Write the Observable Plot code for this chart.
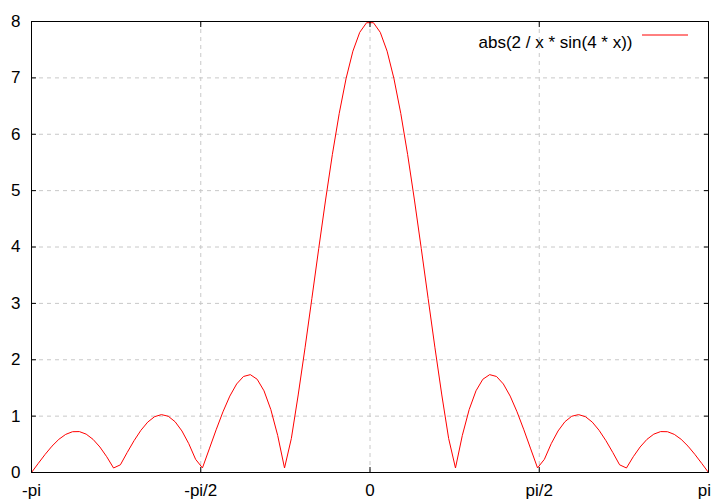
<!DOCTYPE html>
<html>
<head>
<meta charset="utf-8">
<script src="https://cdn.jsdelivr.net/npm/d3@7"></script>
<script src="https://cdn.jsdelivr.net/npm/@observablehq/plot@0.6"></script>
<style>
  html, body { margin: 0; padding: 0; background: #fff; }
  #chart svg { display: block; }
</style>
</head>
<body>
<div id="chart"></div>
<script>
const seriesLabel = "abs(2 / x * sin(4 * x))";

const xs = [
  -3.1416, -3.0781, -3.0147, -2.9512, -2.8877, -2.8243, -2.7608, -2.6973, -2.6339, -2.5704,
  -2.5069, -2.4435, -2.3800, -2.3165, -2.2531, -2.1896, -2.1261, -2.0627, -1.9992, -1.9357,
  -1.8723, -1.8088, -1.7453, -1.6819, -1.6184, -1.5549, -1.4915, -1.4280, -1.3645, -1.3011,
  -1.2376, -1.1741, -1.1107, -1.0472, -0.9837, -0.9203, -0.8568, -0.7933, -0.7299, -0.6664,
  -0.6029, -0.5395, -0.4760, -0.4125, -0.3491, -0.2856, -0.2221, -0.1587, -0.0952, -0.0317,
  0.0317, 0.0952, 0.1587, 0.2221, 0.2856, 0.3491, 0.4125, 0.4760, 0.5395, 0.6029,
  0.6664, 0.7299, 0.7933, 0.8568, 0.9203, 0.9837, 1.0472, 1.1107, 1.1741, 1.2376,
  1.3011, 1.3645, 1.4280, 1.4915, 1.5549, 1.6184, 1.6819, 1.7453, 1.8088, 1.8723,
  1.9357, 1.9992, 2.0627, 2.1261, 2.1896, 2.2531, 2.3165, 2.3800, 2.4435, 2.5069,
  2.5704, 2.6339, 2.6973, 2.7608, 2.8243, 2.8877, 2.9512, 3.0147, 3.0781, 3.1416
];

const ys = [
  0.0000, 0.1632, 0.3226, 0.4677, 0.5885, 0.6762, 0.7236, 0.7258, 0.6804, 0.5880,
  0.4524, 0.2800, 0.0799, 0.1364, 0.3559, 0.5646, 0.7485, 0.8943, 0.9902, 1.0268,
  0.9979, 0.9007, 0.7366, 0.5111, 0.2339, 0.0816, 0.4184, 0.7572, 1.0767, 1.3550,
  1.5705, 1.7032, 1.7356, 1.6540, 1.4490, 1.1164, 0.6576, 0.0800, 0.6037, 1.3752,
  2.2117, 3.0866, 3.9706, 4.8329, 5.6425, 6.3700, 6.9881, 7.4737, 7.8081, 7.9785,
  7.9785, 7.8081, 7.4737, 6.9881, 6.3700, 5.6425, 4.8329, 3.9706, 3.0866, 2.2117,
  1.3752, 0.6037, 0.0800, 0.6576, 1.1164, 1.4490, 1.6540, 1.7356, 1.7032, 1.5705,
  1.3550, 1.0767, 0.7572, 0.4184, 0.0816, 0.2339, 0.5111, 0.7366, 0.9007, 0.9979,
  1.0268, 0.9902, 0.8943, 0.7485, 0.5646, 0.3559, 0.1364, 0.0799, 0.2800, 0.4524,
  0.5880, 0.6804, 0.7258, 0.7236, 0.6762, 0.5885, 0.4677, 0.3226, 0.1632, 0.0000
];

const xTicks = [-3.14159265, -1.57079633, 0, 1.57079633, 3.14159265];
const xTickLabels = ["-pi", "-pi/2", "0", "pi/2", "pi"];
const yTicks = [0, 1, 2, 3, 4, 5, 6, 7, 8];
const yTickLabels = ["0", "1", "2", "3", "4", "5", "6", "7", "8"];
const xDomain = [-3.14159265, 3.14159265];
const yDomain = [0, 8];

const data = xs.map((x, i) => ({x, y: ys[i]}));

const font = "'Liberation Sans', Arial, Helvetica, sans-serif";
const gridStyle = {stroke: "#c8c8c8", strokeOpacity: 1, strokeDasharray: "4,4"};

const chart = Plot.plot({
  width: 712,
  height: 499,
  marginLeft: 31,
  marginRight: 4,
  marginTop: 21,
  marginBottom: 27,
  style: {fontFamily: font, fontSize: "17px", color: "#000", background: "#fff"},
  x: {domain: xDomain, label: null},
  y: {domain: yDomain, label: null},
  marks: [
    Plot.gridX(xTicks.slice(1, -1), gridStyle),
    Plot.gridY(yTicks.slice(1, -1), gridStyle),
    Plot.line(data, {x: "x", y: "y", stroke: "#ff0000", strokeWidth: 1}),
    // tick marks (inward, mirrored on all four sides)
    Plot.axisX(xTicks, {anchor: "bottom", tickSize: -5, tickFormat: () => "", label: null, stroke: "#000"}),
    Plot.axisX(xTicks, {anchor: "top", tickSize: -5, tickFormat: () => "", label: null, stroke: "#000"}),
    Plot.axisY(yTicks, {anchor: "left", tickSize: -5, tickFormat: () => "", label: null, stroke: "#000"}),
    Plot.axisY(yTicks, {anchor: "right", tickSize: -5, tickFormat: () => "", label: null, stroke: "#000"}),
    // tick labels
    Plot.axisX(xTicks, {anchor: "bottom", tickSize: 0, tickPadding: 11, tickFormat: (d, i) => xTickLabels[i], label: null, fill: "#000", fontSize: 17}),
    Plot.axisY(yTicks, {anchor: "left", tickSize: 0, tickPadding: 11, tickFormat: (d, i) => yTickLabels[i], label: null, fill: "#000", fontSize: 17}),
    Plot.frame({stroke: "#000", strokeWidth: 1}),
    Plot.text([seriesLabel], {text: d => d, frameAnchor: "top-right", textAnchor: "end", dx: -76, dy: 14, fill: "#000", fontSize: 17})
  ]
});

document.getElementById("chart").appendChild(chart);

// legend line sample
d3.select(chart).append("line")
  .attr("x1", 642).attr("x2", 688)
  .attr("y1", 35).attr("y2", 35)
  .attr("stroke", "#ff0000").attr("stroke-width", 1);

// keep the rightmost x tick label ("pi") inside the canvas
d3.select(chart).selectAll("text").each(function() {
  if (this.textContent === "pi") {
    const b = this.getBBox();
    const ctm = this.getCTM();
    const right = (ctm ? ctm.e : 0) + b.x + b.width;
    const over = right - 711;
    if (over > 0) this.setAttribute("dx", -over);
  }
});
</script>
</body>
</html>
